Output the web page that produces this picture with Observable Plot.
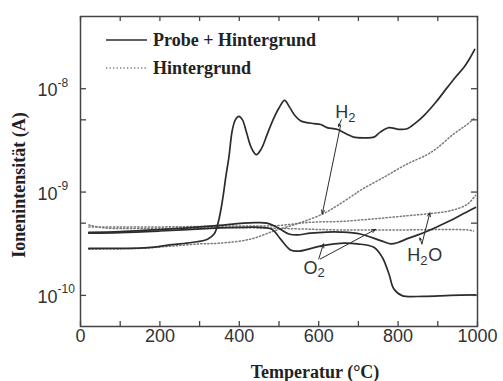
<!DOCTYPE html>
<html><head><meta charset="utf-8">
<script src="https://cdn.jsdelivr.net/npm/d3@7"></script>
<script src="https://cdn.jsdelivr.net/npm/@observablehq/plot@0.6"></script>
<style>body{margin:0;background:#fff} #chart{width:503px;height:381px}</style>
</head><body><div id="chart"></div>
<script>
// ---- data (Temperatur °C, Ionenintensität A) ----
const h2ProbeT = [21,100,170,230,280,320,337,348,358,366,374,382,390,399,408,418,430,443,455,470,485,500,514,527,540,554,570,588,605,621,646,670,688,715,739,755,777,800,823,845,865,895,924,945,966,980,993];
const h2ProbeI = [2.85e-10,2.85e-10,2.9e-10,3.1e-10,3.25e-10,3.5e-10,3.95e-10,5.3e-10,8.5e-10,1.4e-9,2.2e-9,3.9e-9,5.0e-9,5.4e-9,5.0e-9,3.8e-9,2.7e-9,2.3e-9,2.6e-9,3.6e-9,5.0e-9,6.5e-9,7.7e-9,6.6e-9,5.5e-9,4.9e-9,4.7e-9,4.6e-9,4.5e-9,4.2e-9,4.05e-9,3.65e-9,3.4e-9,3.35e-9,3.4e-9,3.8e-9,4.2e-9,4.05e-9,4.1e-9,4.7e-9,5.5e-9,7.4e-9,1.03e-8,1.3e-8,1.61e-8,1.95e-8,2.4e-8];

const h2oProbeT = [21,100,180,252,335,410,440,470,495,525,546,579,620,655,705,756,781,800,823,850,873,900,932,965,995];
const h2oProbeI = [4.08e-10,4.15e-10,4.3e-10,4.45e-10,4.7e-10,5.0e-10,5.05e-10,5.0e-10,4.57e-10,3.93e-10,3.85e-10,4.0e-10,4.1e-10,4.1e-10,3.93e-10,3.39e-10,3.15e-10,3.25e-10,3.54e-10,3.85e-10,4.17e-10,4.65e-10,5.3e-10,6.2e-10,7.1e-10];

const o2ProbeT = [21,100,200,327,400,453,483,504,529,550,579,613,663,697,739,760,777,789,810,865,932,995];
const o2ProbeI = [4.0e-10,4.05e-10,4.2e-10,4.45e-10,4.55e-10,4.55e-10,4.35e-10,3.5e-10,2.75e-10,2.68e-10,2.84e-10,3.05e-10,3.2e-10,3.15e-10,2.92e-10,2.34e-10,1.61e-10,1.16e-10,9.95e-11,9.8e-11,1.0e-10,1.01e-10];

const h2BgT = [21,150,230,300,350,428,487,550,609,647,690,705,764,823,873,900,940,970,993];
const h2BgI = [2.8e-10,2.85e-10,3.0e-10,3.15e-10,3.2e-10,3.5e-10,4.2e-10,5.0e-10,6.1e-10,7.4e-10,9.5e-10,1.04e-9,1.39e-9,1.87e-9,2.3e-9,2.7e-9,3.65e-9,4.4e-9,5.2e-9];

const h2oBgT = [21,100,200,300,400,495,579,655,739,823,882,932,974,995];
const h2oBgI = [4.6e-10,4.6e-10,4.6e-10,4.65e-10,4.7e-10,4.74e-10,5.1e-10,5.2e-10,5.5e-10,5.9e-10,6.2e-10,6.6e-10,7.6e-10,9.3e-10];

const o2BgT = [21,60,150,300,450,550,655,800,975,990];
const o2BgI = [4.8e-10,4.5e-10,4.45e-10,4.5e-10,4.5e-10,4.4e-10,4.3e-10,4.3e-10,4.3e-10,4.2e-10];

const xTicks = [0,100,200,300,400,500,600,700,800,900,1000];
const xTickLabels = [0,200,400,600,800,1000];
const yTicks = [1e-10,5e-10,1e-9,5e-9,1e-8];
const yTickLabels = [1e-10,1e-9,1e-8];

// annotation arrows: start (T1,I1) -> head (T2,I2)
const arrowT1 = [655,657,600,604,860,860];
const arrowI1 = [4.4e-9,5.0e-9,2.25e-10,2.25e-10,3.15e-10,3.15e-10];
const arrowT2 = [609,650,612,743,880,855];
const arrowI2 = [6.15e-10,4.3e-9,3.15e-10,4.35e-10,6.3e-10,3.6e-10];

// annotation labels (species)
const labelName = ["H2","O2","H2O"];
const labelT = [642,562,823];
const labelI = [5.9e-9,1.84e-10,2.43e-10];

// ---- build ----
const W=503,H=381,mL=80,mR=26,mT=16,mB=55;
const plotW=W-mL-mR, plotH=H-mT-mB;
const rows=(name,T,I)=>T.map((t,i)=>({name,T:t,I:I[i]}));
const solid=[...rows("H2",h2ProbeT,h2ProbeI),...rows("H2O",h2oProbeT,h2oProbeI),...rows("O2",o2ProbeT,o2ProbeI)];
const dotted=[...rows("H2",h2BgT,h2BgI),...rows("H2O",h2oBgT,h2oBgI),...rows("O2",o2BgT,o2BgI)];
const arrows=arrowT1.map((t,i)=>({T1:t,I1:arrowI1[i],T2:arrowT2[i],I2:arrowI2[i]}));
const labels=labelName.map((n,i)=>({n,T:labelT[i],I:labelI[i]}));
// split each formula into letters (normal) and digits (subscript), with pixel offsets
const pieces=[];
labels.forEach(l=>{
  let off=0;
  for(const ch of l.n){
    const sub=/[0-9]/.test(ch);
    pieces.push({T:l.T,I:l.I,t:ch,sub,dx:off});
    off += sub ? 8 : (ch==="O"?14:13);
  }
});
const offsets=[...new Set(pieces.map(p=>p.dx+"|"+p.sub))];

const ink="#2c2c2c", txt="#333";
const labelMarks=offsets.map(k=>{
  const [dx,sub]=k.split("|");
  const data=pieces.filter(p=>p.dx+"|"+p.sub===k);
  return Plot.text(data,{x:"T",y:"I",text:"t",dx:+dx,dy:sub==="true"?5:0,textAnchor:"start",fontSize:sub==="true"?13:18,fill:txt});
});

const plot=Plot.plot({
  width:W,height:H,marginLeft:mL,marginRight:mR,marginTop:mT,marginBottom:mB,
  style:{fontFamily:"Liberation Sans, Arial, sans-serif",background:"#fff",overflow:"visible"},
  x:{domain:[0,1000],axis:null},
  y:{type:"log",domain:[5e-11,5e-8],axis:null},
  marks:[
    Plot.line(dotted,{x:"T",y:"I",z:"name",stroke:"#7a7a7a",strokeWidth:1.5,strokeDasharray:"1.3,2.2",curve:"catmull-rom"}),
    Plot.line(solid,{x:"T",y:"I",z:"name",stroke:ink,strokeWidth:1.7,curve:"catmull-rom"}),
    Plot.frame({stroke:"#444",strokeWidth:1.5}),
    Plot.ruleX(xTicks,{x:d=>d,insetTop:plotH-5,stroke:"#444",strokeWidth:1.3}),
    Plot.ruleX(xTicks,{x:d=>d,insetBottom:plotH-5,stroke:"#444",strokeWidth:1.3}),
    Plot.ruleY(yTicks,{y:d=>d,insetRight:plotW-6,stroke:"#444",strokeWidth:1.3}),
    Plot.ruleY(yTicks,{y:d=>d,insetLeft:plotW-6,stroke:"#444",strokeWidth:1.3}),
    Plot.text(xTickLabels,{x:d=>d,text:d=>String(d),frameAnchor:"bottom",dy:15,fontSize:18,fill:txt}),
    Plot.text(yTickLabels,{y:d=>d,text:()=>"10",frameAnchor:"left",dx:-43,dy:2,textAnchor:"start",fontSize:18,fill:txt}),
    Plot.text(yTickLabels,{y:d=>d,text:d=>String(Math.round(Math.log10(d))),frameAnchor:"left",dx:-23,dy:-6,textAnchor:"start",fontSize:12,fill:txt}),
    Plot.arrow(arrows,{x1:"T1",y1:"I1",x2:"T2",y2:"I2",stroke:ink,strokeWidth:1,headLength:6,headAngle:45}),
    ...labelMarks
  ]
});
document.getElementById("chart").appendChild(plot);

const svg=d3.select(plot);
const serif="Liberation Serif, Times New Roman, serif";
// legend
const leg=svg.append("g").attr("text-anchor","start");
leg.append("line").attr("x1",106).attr("x2",147).attr("y1",40).attr("y2",40).attr("stroke",ink).attr("stroke-width",1.7);
leg.append("line").attr("x1",106).attr("x2",147).attr("y1",68).attr("y2",68).attr("stroke","#7a7a7a").attr("stroke-width",1.5).attr("stroke-dasharray","1.3,2.2");
leg.append("text").attr("x",153).attr("y",46).attr("text-anchor","start").attr("font-family",serif).attr("font-weight","bold").attr("font-size",18).attr("fill","#222").text("Probe + Hintergrund");
leg.append("text").attr("x",153).attr("y",74).attr("text-anchor","start").attr("font-family",serif).attr("font-weight","bold").attr("font-size",18).attr("fill","#222").text("Hintergrund");
// axis titles
svg.append("text").attr("x",315).attr("y",378).attr("text-anchor","middle").attr("font-family",serif).attr("font-weight","bold").attr("font-size",18).attr("fill","#222").text("Temperatur (°C)");
svg.append("text").attr("transform","translate(25,185) rotate(-90)").attr("text-anchor","middle").attr("font-family",serif).attr("font-weight","bold").attr("font-size",18).attr("fill","#222").text("Ionenintensität (A)");
</script></body></html>
